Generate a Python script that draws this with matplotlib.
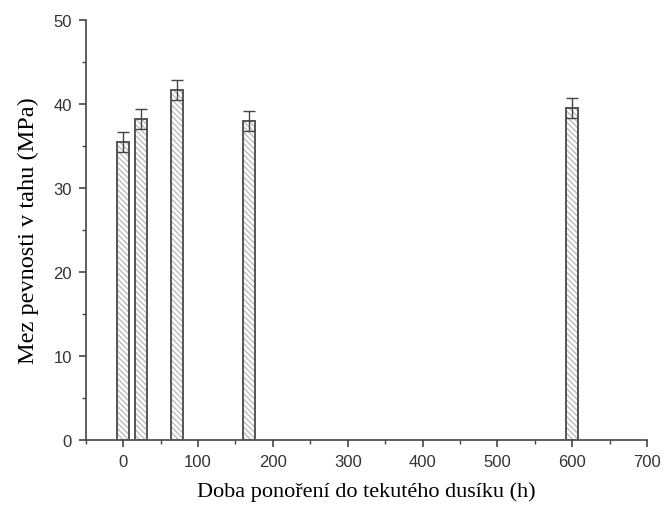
import numpy as np
import matplotlib.pyplot as plt
from matplotlib.ticker import MultipleLocator

# Data
hours = [0, 24, 72, 168, 600]
strength = [35.5, 38.2, 41.7, 38.0, 39.5]
err = [1.2, 1.2, 1.2, 1.2, 1.2]

fig = plt.figure(figsize=(6.65, 5.06), dpi=100)
ax = fig.add_axes([0.129, 0.1285, 0.844, 0.83])

# hatched fill, then dark outline
ax.bar(hours, strength, width=16, color='white', edgecolor='#bdbdbd',
       hatch='\\\\\\\\\\\\', linewidth=0, zorder=2)
ax.bar(hours, strength, width=16, color='none', edgecolor='#555555',
       linewidth=1.4, zorder=3)
ax.errorbar(hours, strength, yerr=err, fmt='none', ecolor='#444444',
            elinewidth=1.0, capsize=4, capthick=1.0, zorder=4)

ax.set_xlim(-50, 700)
ax.set_ylim(0, 50)
ax.xaxis.set_major_locator(MultipleLocator(100))
ax.xaxis.set_minor_locator(MultipleLocator(50))
ax.yaxis.set_major_locator(MultipleLocator(10))
ax.yaxis.set_minor_locator(MultipleLocator(5))

for s in ['top', 'right']:
    ax.spines[s].set_visible(False)
for s in ['left', 'bottom']:
    ax.spines[s].set_color('#444444')
    ax.spines[s].set_linewidth(1.2)

ax.tick_params(which='major', direction='out', length=5, width=1.2,
               color='#444444', labelcolor='#333333', pad=5)
ax.tick_params(which='minor', direction='out', length=3, width=1.0,
               color='#444444')
for lab in ax.get_xticklabels() + ax.get_yticklabels():
    lab.set_family('Liberation Sans')
    lab.set_fontsize(12)

ax.set_xlabel('Doba ponoření do tekutého dusíku (h)', family='Liberation Serif',
              fontsize=16, labelpad=9)
ax.set_ylabel('Mez pevnosti v tahu (MPa)', family='Liberation Serif',
              fontsize=17.5, labelpad=10)

plt.savefig('out.png', dpi=100)
plt.close()
